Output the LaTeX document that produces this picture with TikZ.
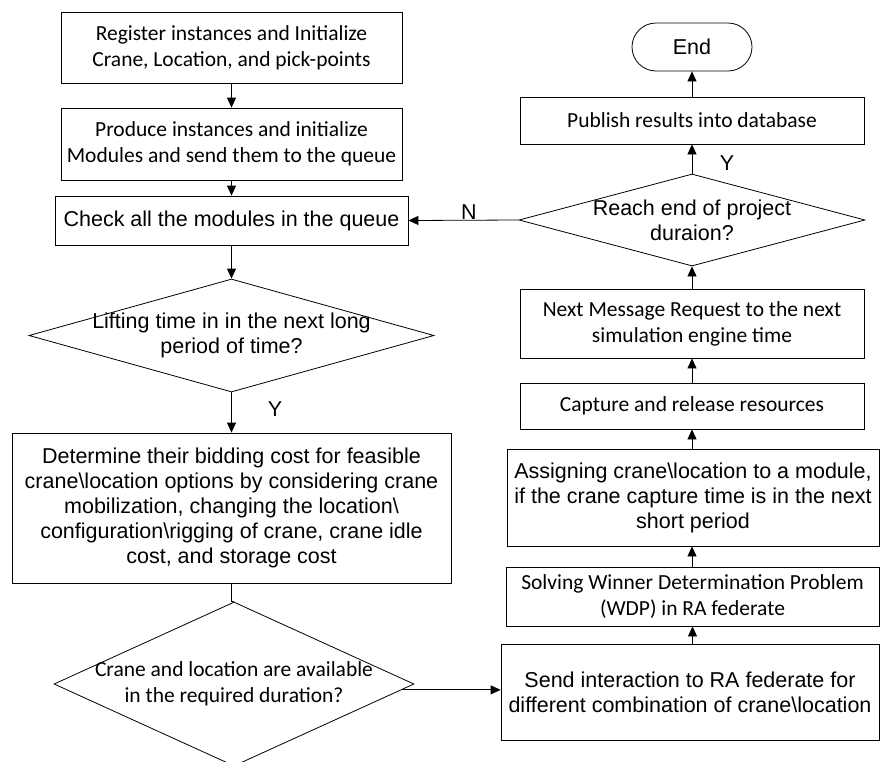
\documentclass[tikz,border=0pt]{standalone}
\usepackage{fontspec}
\usepackage{tikz}
\usetikzlibrary{shapes.geometric,arrows.meta}
\newfontfamily\calfont{Carlito}
\newfontfamily\arifont{Liberation Sans}

\begin{document}
\begin{tikzpicture}[x=1pt, y=-1pt, line width=0.8pt,
    box/.style={draw, rectangle, inner sep=0pt, align=center},
    decision/.style={draw, diamond, inner sep=0pt},
    term/.style={draw, rectangle, rounded corners=24pt, inner sep=0pt},
    cal/.style={font=\calfont\fontsize{21.5}{26}\selectfont},
    ari/.style={font=\arifont\fontsize{21.5}{25}\selectfont},
    flow/.style={-{Triangle[length=10pt,width=9pt]}}]
    \useasboundingbox (0,0) rectangle (880,761);

    % left column
    \node[box, cal, minimum width=341pt, minimum height=71pt] (reg) at (231.5,47.5)
        {Register instances and Initialize\\Crane, Location, and pick-points};
    \node[box, cal, minimum width=341pt, minimum height=72pt] (prod) at (231.5,144)
        {Produce instances and initialize\\Modules and send them to the queue};
    \node[box, ari, minimum width=353pt, minimum height=49pt] (check) at (231.5,220.5)
        {Check all the modules in the queue};
    \node[decision, minimum width=405pt, minimum height=113pt] (lift) at (231.5,335.5) {};
    \node[ari, align=center] (lifttext) at (lift.center)
        {Lifting time in in the next long\\period of time?};
    \node[box, ari, minimum width=439pt, minimum height=150pt] (det) at (231.5,508)
        {Determine their bidding cost for feasible\\
         crane\textbackslash location options by considering crane\\
         mobilization, changing the location\textbackslash\\
         configuration\textbackslash rigging of crane, crane idle\\
         cost, and storage cost};
    \node[decision, minimum width=360pt, minimum height=164pt] (avail) at (234,684) {};
    \node[cal, align=center] (availtext) at (avail.center)
        {Crane and location are available\\in the required duration?};

    % right column
    \node[box, ari, minimum width=378pt, minimum height=96pt] (send) at (690,692)
        {Send interaction to RA federate for\\different combination of crane\textbackslash location};
    \node[box, cal, minimum width=373pt, minimum height=59pt] (wdp) at (692.5,596.5)
        {Solving Winner Determination Problem\\(WDP) in RA federate};
    \node[box, ari, minimum width=372pt, minimum height=97pt] (assign) at (693,497.5)
        {Assigning crane\textbackslash location to a module,\\
         if the crane capture time is in the next\\short period};
    \node[box, cal, minimum width=344pt, minimum height=46pt] (capture) at (692,406)
        {Capture and release resources};
    \node[box, cal, minimum width=344pt, minimum height=69pt] (next) at (692,323.5)
        {Next Message Request to the next\\simulation engine time};
    \node[decision, minimum width=346pt, minimum height=92pt] (reach) at (692,220) {};
    \node[ari, align=center] (reachtext) at (reach.center)
        {Reach end of project\\duraion?};
    \node[box, cal, minimum width=344pt, minimum height=47pt] (pub) at (692,120.5)
        {Publish results into database};
    \node[term, ari, minimum width=120pt, minimum height=48pt] (end) at (692,47) {End};

    % connectors
    \draw[flow] (reg) -- (prod);
    \draw[flow] (prod) -- (check);
    \draw[flow] (check) -- (lift);
    \draw[flow] (lift) -- (det);
    \node[ari] (yes1) at (275,409) {Y};
    \draw (det.south) -- (det.south |- avail.north) -- (avail.north);
    \draw[flow] (avail.-2.8) -- (avail.-2.8 -| send.west);
    \draw[flow] (wdp.south |- send.north) -- (wdp.south);
    \draw[flow] (wdp.north -| next.south) -- (assign.south -| next.south);
    \draw[flow] (assign.north -| next.south) -- (capture.south);
    \draw[flow] (capture) -- (next);
    \draw[flow] (next) -- (reach);
    \draw[flow] (reach) -- (pub);
    \node[ari] (yes2) at (727,163) {Y};
    \draw[flow] (pub) -- (end);
    \draw[flow] (reach.west) -- (check.east);
    \node[ari] (no) at (469,212) {N};
\end{tikzpicture}
\end{document}
